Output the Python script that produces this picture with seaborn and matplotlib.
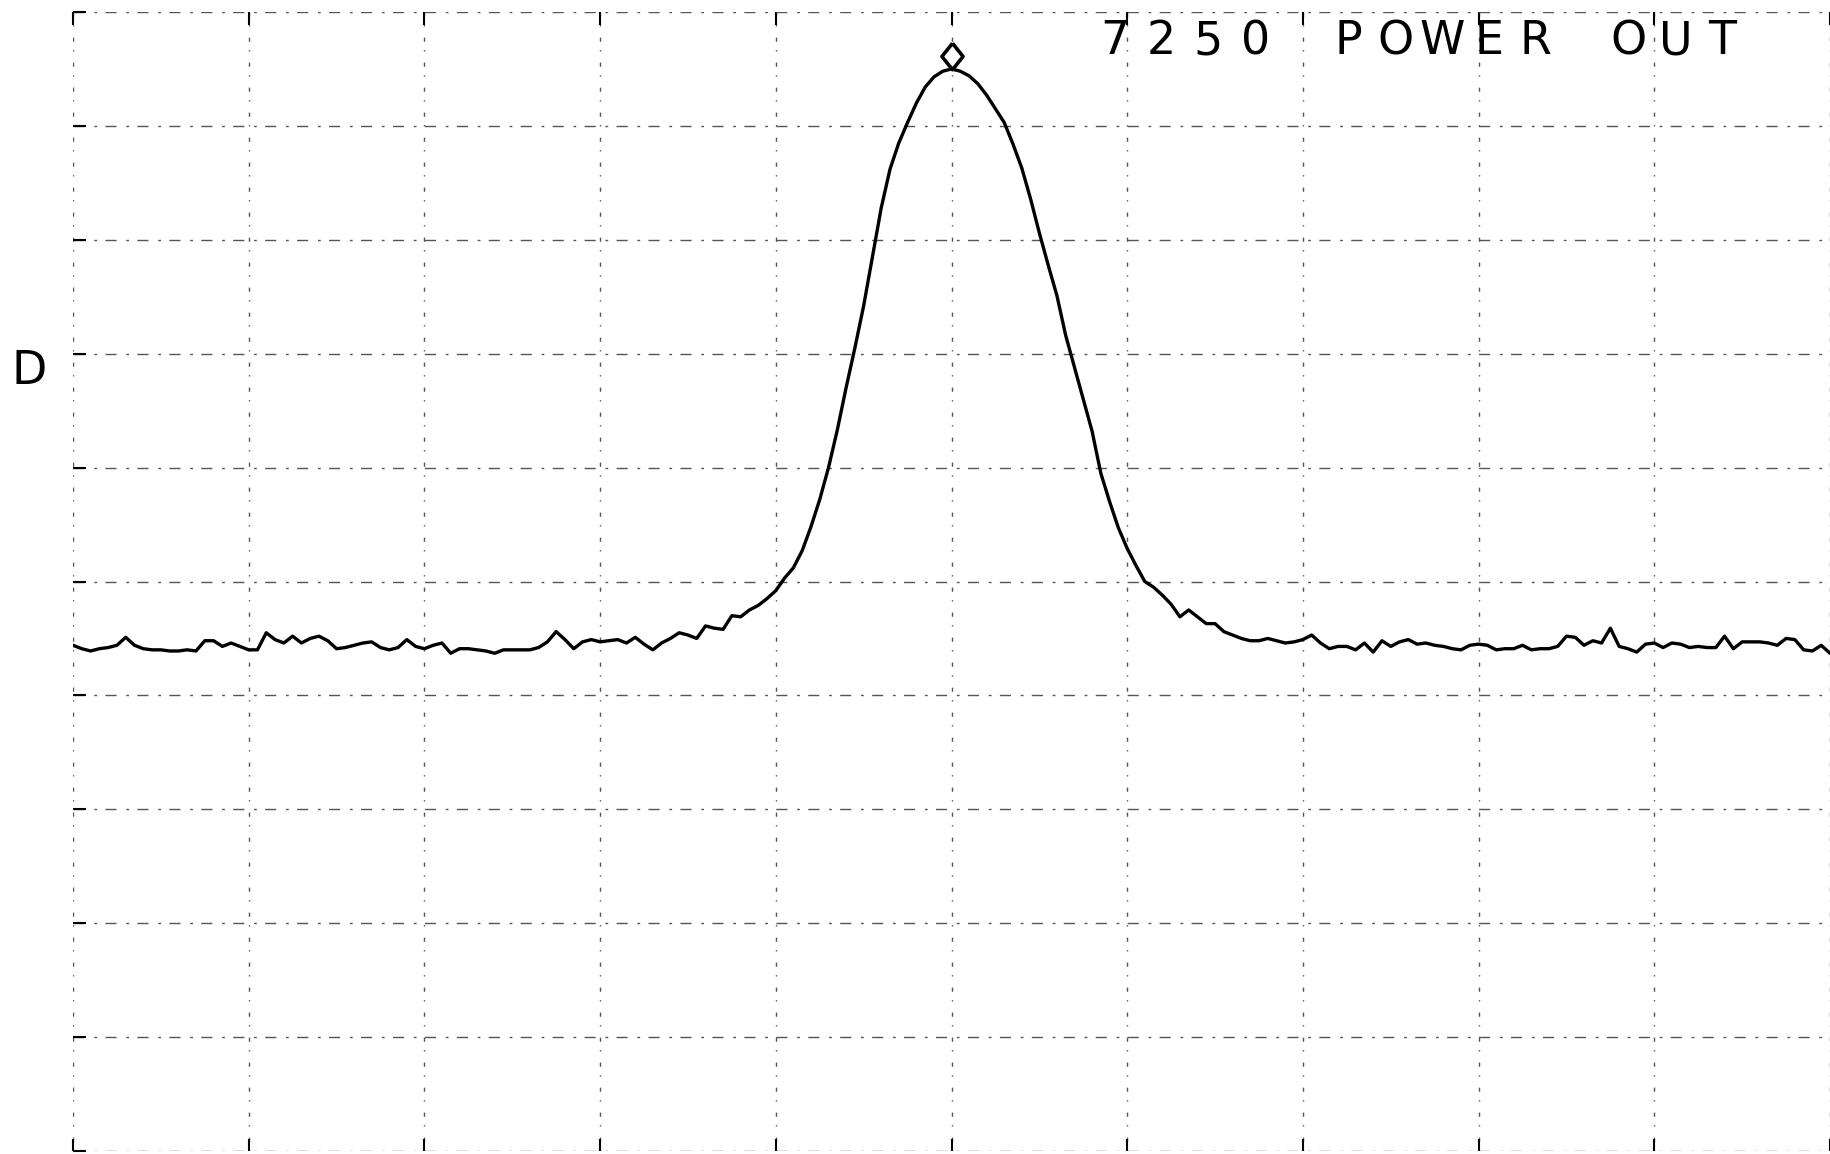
import numpy as np
import pandas as pd
import seaborn as sns
import matplotlib.pyplot as plt

# trace, in graticule divisions (x: 0-10, y: 0-10), 0.05 div steps
trace_0_2 = [4.44, 4.41, 4.39, 4.41, 4.42, 4.44, 4.51, 4.44, 4.41, 4.40,
             4.40, 4.39, 4.39, 4.40, 4.39, 4.48, 4.48, 4.43, 4.46, 4.43,
             4.40, 4.40, 4.55, 4.49, 4.46, 4.52, 4.46, 4.50, 4.52, 4.48,
             4.41, 4.42, 4.44, 4.46, 4.47, 4.42, 4.40, 4.42, 4.49, 4.43]
trace_2_4 = [4.41, 4.44, 4.46, 4.37, 4.41, 4.41, 4.40, 4.39, 4.37, 4.40,
             4.40, 4.40, 4.40, 4.42, 4.47, 4.56, 4.49, 4.41, 4.47, 4.49,
             4.47, 4.48, 4.49, 4.46, 4.51, 4.45, 4.40, 4.46, 4.50, 4.55,
             4.53, 4.50, 4.61, 4.59, 4.58, 4.70, 4.69, 4.75, 4.79, 4.85]
trace_peak = [4.92, 5.03, 5.12, 5.27, 5.48, 5.72, 6.00, 6.33, 6.70, 7.05,
              7.42, 7.85, 8.28, 8.62, 8.85, 9.03, 9.20, 9.34, 9.43, 9.48,
              9.50, 9.48, 9.44, 9.37, 9.27, 9.15, 9.03, 8.84, 8.63, 8.36,
              8.06, 7.78, 7.51, 7.16, 6.88, 6.60, 6.32, 5.95, 5.70, 5.47,
              5.29, 5.14, 5.00, 4.95, 4.88, 4.80]
trace_tail = [4.69, 4.75, 4.69, 4.63, 4.63, 4.56, 4.53, 4.50, 4.48, 4.48,
              4.50, 4.48, 4.46, 4.47, 4.49, 4.53, 4.46, 4.41, 4.43, 4.43,
              4.40, 4.46, 4.38, 4.48, 4.43, 4.47, 4.49, 4.45, 4.46, 4.44,
              4.43, 4.41, 4.40, 4.44]
trace_8_10 = [4.45, 4.44, 4.40, 4.41, 4.41, 4.44, 4.40, 4.41, 4.41, 4.43,
              4.52, 4.51, 4.44, 4.48, 4.46, 4.59, 4.43, 4.41, 4.38, 4.45,
              4.46, 4.42, 4.46, 4.45, 4.42, 4.43, 4.42, 4.42, 4.52, 4.41,
              4.47, 4.47, 4.47, 4.46, 4.44, 4.50, 4.49, 4.40, 4.39, 4.44,
              4.37]

marker_x = [5.0]
marker_y = [9.61]
title = "7250 POWER OUT"
side_label = "D"

level = trace_0_2 + trace_2_4 + trace_peak + trace_tail + trace_8_10
df = pd.DataFrame({"div": np.linspace(0, 10, len(level)), "level": level})

sns.set_style("white")
plt.rcParams['font.family'] = ['DejaVu Sans']

fig = plt.figure(figsize=(18.3, 11.54), dpi=100)
ax = fig.add_axes([73 / 1830, 3 / 1154, 1757 / 1830, 1139 / 1154])

sns.lineplot(data=df, x="div", y="level", color="black", lw=2.4, ax=ax)
# fat open diamond over the peak
diamond = [(0, 1), (0.8, 0), (0, -1), (-0.8, 0), (0, 1)]
ax.plot(marker_x, marker_y, marker=diamond, ms=19, mfc="white", mec="black",
        mew=2.6, ls="none")

# graticule
ax.set_xlim(0, 10)
ax.set_ylim(0, 10)
ax.set_xticks(range(11))
ax.set_yticks(range(11))
ax.xaxis.grid(True, color="#555555", lw=1.0, linestyle=(0, (1, 6, 3, 8)))
ax.yaxis.grid(True, color="#555555", lw=1.0, linestyle=(0, (8, 7, 2, 6)))
ax.tick_params(top=True, bottom=True, left=True, right=False, direction="in",
               length=9, width=1.5, color="black",
               labelbottom=False, labelleft=False)
for s in ax.spines.values():
    s.set_visible(False)
ax.set_xlabel("")
ax.set_ylabel("")

# plotter style header, fixed character pitch
for i, ch in enumerate(title):
    ax.text(5.93 + 0.266 * i, 9.74, ch, ha="center", va="center",
            fontsize=33, color="black")

fig.text(29 / 1830, 1 - 371 / 1154, side_label, ha="center", va="center",
         fontsize=33, color="black")

plt.savefig("out.png", dpi=100)
